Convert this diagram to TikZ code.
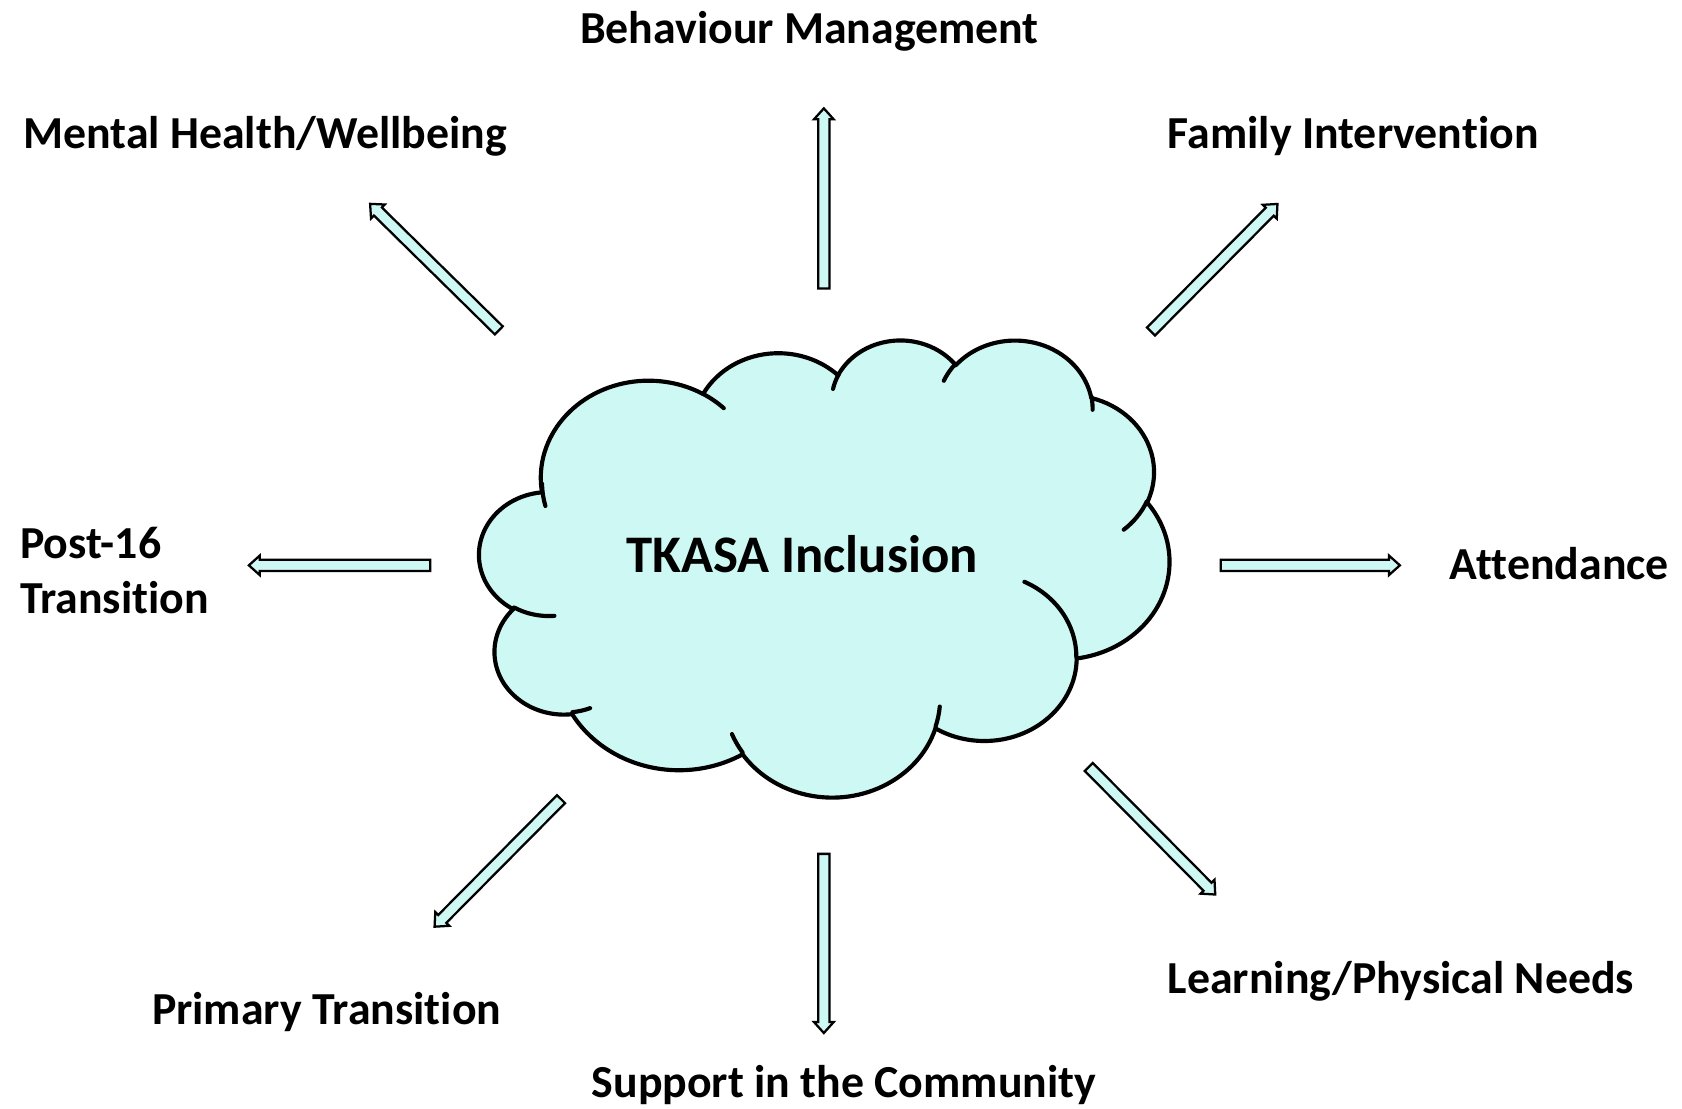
\documentclass[tikz,border=0pt]{standalone}
\usepackage{fontspec}
\setmainfont{Carlito}[Ligatures=NoCommon]
\usetikzlibrary{calc}

\definecolor{cloudfill}{RGB}{205,248,244}

\tikzset{
  lbl/.style={font=\bfseries\fontsize{12.15}{14.5}\selectfont, inner sep=0pt, anchor=base west},
  title/.style={font=\bfseries\fontsize{14}{16}\selectfont, inner sep=0pt, anchor=base west},
  cloudline/.style={draw=black, line width=1.1pt, fill=cloudfill, line join=round},
  crease/.style={draw=black, line width=1.1pt, line cap=round},
  barrow/.style={draw=black, line width=0.6pt, fill=cloudfill, line join=miter},
}

% Convert an arc given by visual start angle and sweep on an ellipse
% into parametric start angle (\cS<id>) and delta angle (\cD<id>).
\newcommand\arcprep[5]{%
  \pgfmathsetmacro\tmpS{atan2((#2)*sin(#4),(#3)*cos(#4))}%
  \pgfmathsetmacro\tmpE{atan2((#2)*sin((#4)+(#5)),(#3)*cos((#4)+(#5)))}%
  \pgfmathsetmacro\tmpD{\tmpE-\tmpS}%
  \ifdim #5pt>0pt
    \ifdim \tmpD pt<0pt \pgfmathsetmacro\tmpD{\tmpD+360}\fi
  \else
    \ifdim \tmpD pt>0pt \pgfmathsetmacro\tmpD{\tmpD-360}\fi
  \fi
  \expandafter\xdef\csname cS#1\endcsname{\tmpS}%
  \expandafter\xdef\csname cD#1\endcsname{\tmpD}%
}

% outline lobes
\arcprep{A}{67.53}{91.90}{-190.4875}{123.7805}
\arcprep{B}{53.33}{72.67}{-144.1024}{89.9452}
\arcprep{C}{43.65}{59.45}{-145.8079}{99.7230}
\arcprep{D}{48.57}{65.95}{-130.9861}{117.2417}
\arcprep{E}{53.33}{72.73}{-78.7089}{109.0269}
\arcprep{F}{67.75}{92.20}{-46.2673}{130.2690}
\arcprep{G}{57.85}{78.67}{0.6250}{114.0333}
\arcprep{H}{67.52}{92.15}{22.4516}{115.1726}
\arcprep{I}{77.20}{105.43}{66.2426}{75.7110}
\arcprep{J}{43.60}{59.18}{-274.9421}{146.7356}
\arcprep{K}{43.45}{59.45}{-246.8285}{152.5189}
% inner creases
\arcprep{a}{43.45}{59.45}{86.7420}{26.4295}
\arcprep{b}{43.60}{59.18}{73.6105}{11.4475}
\arcprep{c}{67.52}{92.15}{137.6242}{14.0811}
\arcprep{d}{67.52}{92.15}{6.4533}{15.9984}
\arcprep{e}{57.85}{78.67}{-70.2924}{70.9174}
\arcprep{f}{53.33}{72.73}{30.3180}{27.7515}
\arcprep{g}{48.57}{65.95}{-13.7443}{14.8589}
\arcprep{h}{48.57}{65.95}{-149.1815}{18.1954}
\arcprep{i}{43.65}{59.45}{-163.4943}{17.8337}
\arcprep{j}{67.53}{91.90}{-66.7070}{12.3194}
\arcprep{k}{67.53}{91.90}{160.6521}{17.7795}

% Block arrow from a named tail coordinate to a named tip coordinate
\makeatletter
\newcommand\blockarrow[2]{%
  \pgfmathanglebetweenpoints{\pgfpointanchor{#1}{center}}{\pgfpointanchor{#2}{center}}%
  \edef\baAng{\pgfmathresult}%
  \pgfpointdiff{\pgfpointanchor{#1}{center}}{\pgfpointanchor{#2}{center}}%
  \pgfgetlastxy{\bax}{\bay}%
  \pgfmathveclen{\bax}{\bay}%
  \edef\baLen{\pgfmathresult}%
  \pgfmathsetmacro\baNeck{\baLen-2.9}%
  \begin{scope}[shift={(#1)}, rotate=\baAng]
    \draw[barrow] (0pt,-1.5pt) -- (\baNeck pt,-1.5pt) -- (\baNeck pt,-2.6pt)
      -- (\baLen pt,0pt) -- (\baNeck pt,2.6pt) -- (\baNeck pt,1.5pt)
      -- (0pt,1.5pt) -- cycle;
  \end{scope}}
\makeatother

\begin{document}
\begin{tikzpicture}[x=0.01cm, y=-0.01cm]
  \useasboundingbox (0,0) rectangle (1568,1033);
  \fill[white] (0,0) rectangle (1568,1033);

  % the cloud
  \begin{scope}[shift={(447,316)}, xscale=1.48843, yscale=0.98611]
    \draw[cloudline] (39.00,143.70)
      arc[x radius=67.53, y radius=91.90, start angle=\cSA, delta angle=\cDA]
      arc[x radius=53.33, y radius=72.67, start angle=\cSB, delta angle=\cDB]
      arc[x radius=43.65, y radius=59.45, start angle=\cSC, delta angle=\cDC]
      arc[x radius=48.57, y radius=65.95, start angle=\cSD, delta angle=\cDD]
      arc[x radius=53.33, y radius=72.73, start angle=\cSE, delta angle=\cDE]
      arc[x radius=67.75, y radius=92.20, start angle=\cSF, delta angle=\cDF]
      arc[x radius=57.85, y radius=78.67, start angle=\cSG, delta angle=\cDG]
      arc[x radius=67.52, y radius=92.15, start angle=\cSH, delta angle=\cDH]
      arc[x radius=77.20, y radius=105.43, start angle=\cSI, delta angle=\cDI]
      arc[x radius=43.60, y radius=59.18, start angle=\cSJ, delta angle=\cDJ]
      arc[x radius=43.45, y radius=59.45, start angle=\cSK, delta angle=\cDK]
      -- cycle;
    \draw[crease] (46.93,261.77) arc[x radius=43.45, y radius=59.45, start angle=\cSa, delta angle=\cDa];
    \draw[crease] (69.28,348.99) arc[x radius=43.60, y radius=59.18, start angle=\cSb, delta angle=\cDb];
    \draw[crease] (164.78,390.90) arc[x radius=67.52, y radius=92.15, start angle=\cSc, delta angle=\cDc];
    \draw[crease] (288.27,347.51) arc[x radius=67.52, y radius=92.15, start angle=\cSd, delta angle=\cDd];
    \draw[crease] (341.29,229.54) arc[x radius=57.85, y radius=78.67, start angle=\cSe, delta angle=\cDe];
    \draw[crease] (417.98,153.54) arc[x radius=53.33, y radius=72.73, start angle=\cSf, delta angle=\cDf];
    \draw[crease] (383.24,54.26) arc[x radius=48.57, y radius=65.95, start angle=\cSg, delta angle=\cDg];
    \draw[crease] (290.78,39.52) arc[x radius=48.57, y radius=65.95, start angle=\cSh, delta angle=\cDh];
    \draw[crease] (221.41,47.20) arc[x radius=43.65, y radius=59.45, start angle=\cSi, delta angle=\cDi];
    \draw[crease] (140.00,51.92) arc[x radius=67.53, y radius=91.90, start angle=\cSj, delta angle=\cDj];
    \draw[crease] (41.27,157.89) arc[x radius=67.53, y radius=91.90, start angle=\cSk, delta angle=\cDk];
  \end{scope}

  \node[title] (centre) at (583,534) {TKASA Inclusion};

  % labels
  \node[lbl] (behav)  at (540,41)   {Behaviour Management};
  \node[lbl] (mental) at (21,138)   {Mental Health/Wellbeing};
  \node[lbl] (family) at (1088,138) {Family Intervention};
  \node[lbl, align=left, anchor=west] (post) at (18,532) {Post-16\\Transition};
  \node[lbl] (attend) at (1351,540) {Attendance};
  \node[lbl] (primary) at (141,955) {Primary Transition};
  \node[lbl] (support) at (551,1023) {Support in the Community};
  \node[lbl] (learn)  at (1088,926) {Learning/Physical Needs};

  % arrow ends
  \coordinate (uT) at (768,269);   \coordinate (uH) at (768,101);
  \coordinate (ulT) at (465,308);  \coordinate (ulH) at (345,190);
  \coordinate (urT) at (1073,309); \coordinate (urH) at (1191,190);
  \coordinate (lT) at (401,527);   \coordinate (lH) at (232,527);
  \coordinate (rT) at (1138,527);  \coordinate (rH) at (1305,527);
  \coordinate (llT) at (523,745);  \coordinate (llH) at (405,864);
  \coordinate (dT) at (768,796);   \coordinate (dH) at (768,963);
  \coordinate (lrT) at (1015,715); \coordinate (lrH) at (1133,834);

  \blockarrow{uT}{uH}
  \blockarrow{ulT}{ulH}
  \blockarrow{urT}{urH}
  \blockarrow{lT}{lH}
  \blockarrow{rT}{rH}
  \blockarrow{llT}{llH}
  \blockarrow{dT}{dH}
  \blockarrow{lrT}{lrH}
\end{tikzpicture}
\end{document}
